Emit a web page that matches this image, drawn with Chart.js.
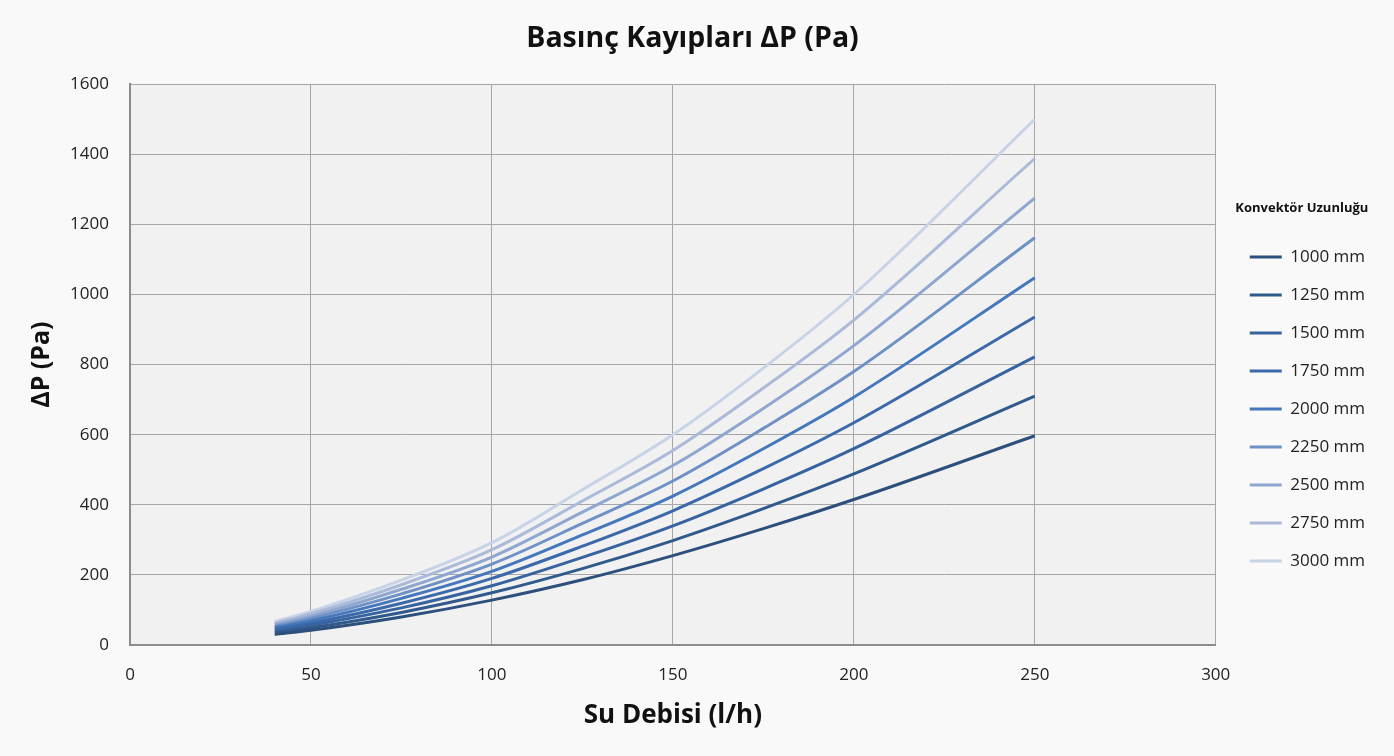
<!DOCTYPE html>
<html>
<head>
<meta charset="utf-8">
<script src="https://cdn.jsdelivr.net/npm/chart.js@4"></script>
<style>
  html, body { margin: 0; padding: 0; background: #f9f9f9; }
  #wrap { width: 1394px; height: 756px; }
</style>
</head>
<body>
<div id="wrap"><canvas id="pressureChart" width="1394" height="756"></canvas></div>
<script>
// Data
let flowRates = [40, 50, 75, 100, 125, 150, 175, 200, 250];
let lengths = ["1000 mm", "1250 mm", "1500 mm", "1750 mm", "2000 mm", "2250 mm", "2500 mm", "2750 mm", "3000 mm"];

let dp1000 = [30, 42, 80, 128, 186, 255, 332, 415, 597];
let dp1250 = [35, 49, 93, 149, 218, 298, 389, 488, 710];
let dp1500 = [39, 56, 106, 169, 250, 340, 445, 560, 822];
let dp1750 = [44, 62, 119, 190, 282, 383, 503, 634, 936];
let dp2000 = [49, 69, 133, 210, 314, 425, 560, 707, 1048];
let dp2250 = [53, 76, 146, 231, 347, 468, 618, 780, 1162];
let dp2500 = [58, 82, 159, 251, 379, 512, 675, 854, 1275];
let dp2750 = [62, 89, 172, 272, 411, 555, 733, 927, 1388];
let dp3000 = [67, 96, 185, 292, 443, 600, 790, 1000, 1500];

let series = [dp1000, dp1250, dp1500, dp1750, dp2000, dp2250, dp2500, dp2750, dp3000];
let colors = ["#2c4f7c", "#315a8c", "#3763a0", "#3b69a9", "#4577bd", "#6f91c6", "#8fa7d0", "#aabad8", "#c8d3e7"];

let fontFamily = "'Open Sans', 'Noto Sans', sans-serif";

let datasets = series.map(function (values, i) {
  return {
    label: lengths[i],
    data: flowRates.map(function (x, j) { return { x: x, y: values[j] }; }),
    borderColor: colors[i],
    backgroundColor: colors[i],
    borderWidth: 3,
    pointRadius: 0,
    cubicInterpolationMode: "monotone",
    fill: false
  };
});

// Grey plot area background
let plotBackground = {
  id: "plotBackground",
  beforeDraw: function (chart) {
    let a = chart.chartArea;
    let c = chart.ctx;
    c.save();
    c.fillStyle = "#f1f1f1";
    c.fillRect(a.left, a.top, a.right - a.left, a.bottom - a.top);
    c.restore();
  }
};

let ctx = document.getElementById("pressureChart").getContext("2d");
let pressureChart = new Chart(ctx, {
  type: "line",
  data: { datasets: datasets },
  plugins: [plotBackground],
  options: {
    responsive: false,
    animation: false,
    layout: { padding: { left: 10, right: 19, top: 0, bottom: 0 } },
    plugins: {
      title: {
        display: true,
        text: "Basınç Kayıpları ΔP (Pa)",
        color: "#111",
        font: { family: fontFamily, size: 28.5, weight: "bold" },
        padding: { top: 22, bottom: 28 }
      },
      legend: {
        position: "right",
        align: "start",
        title: {
          display: true,
          text: "Konvektör Uzunluğu",
          color: "#111",
          font: { family: fontFamily, size: 13, weight: "bold" },
          padding: { top: 202, bottom: 10 }
        },
        labels: {
          color: "#222",
          boxWidth: 32,
          boxHeight: 3,
          padding: 21,
          font: { family: fontFamily, size: 17 },
          generateLabels: function (chart) {
            return Chart.defaults.plugins.legend.labels.generateLabels(chart).map(function (l) {
              l.lineWidth = 0;
              return l;
            });
          }
        }
      },
      tooltip: { enabled: false }
    },
    scales: {
      x: {
        type: "linear",
        min: 0,
        max: 300,
        afterFit: function (scale) { scale.height = 111; },
        ticks: { stepSize: 50, color: "#222", font: { family: fontFamily, size: 17 }, padding: 20 },
        grid: { color: "#a6a6a6", lineWidth: 1, drawTicks: false },
        border: { color: "#8c8c8c", width: 2 },
        title: {
          display: true,
          text: "Su Debisi (l/h)",
          color: "#111",
          font: { family: fontFamily, size: 26, weight: "bold" },
          padding: { top: 0, bottom: 25 }
        }
      },
      y: {
        min: 0,
        max: 1600,
        afterFit: function (scale) { scale.width = 120; },
        ticks: {
          stepSize: 200,
          color: "#222",
          font: { family: fontFamily, size: 17 },
          padding: 21,
          callback: function (v) { return String(v); }
        },
        grid: { color: "#a6a6a6", lineWidth: 1, drawTicks: false },
        border: { color: "#8c8c8c", width: 2 },
        title: {
          display: true,
          text: "ΔP (Pa)",
          color: "#111",
          font: { family: fontFamily, size: 25, weight: "bold" },
          padding: { top: 17, bottom: 0 }
        }
      },
      // empty right axis, only keeps a gap before the legend
      gap: {
        position: "right",
        display: true,
        afterFit: function (scale) { scale.width = 13; },
        ticks: { display: false },
        grid: { display: false, drawTicks: false },
        border: { display: false }
      }
    }
  }
});
</script>
</body>
</html>
